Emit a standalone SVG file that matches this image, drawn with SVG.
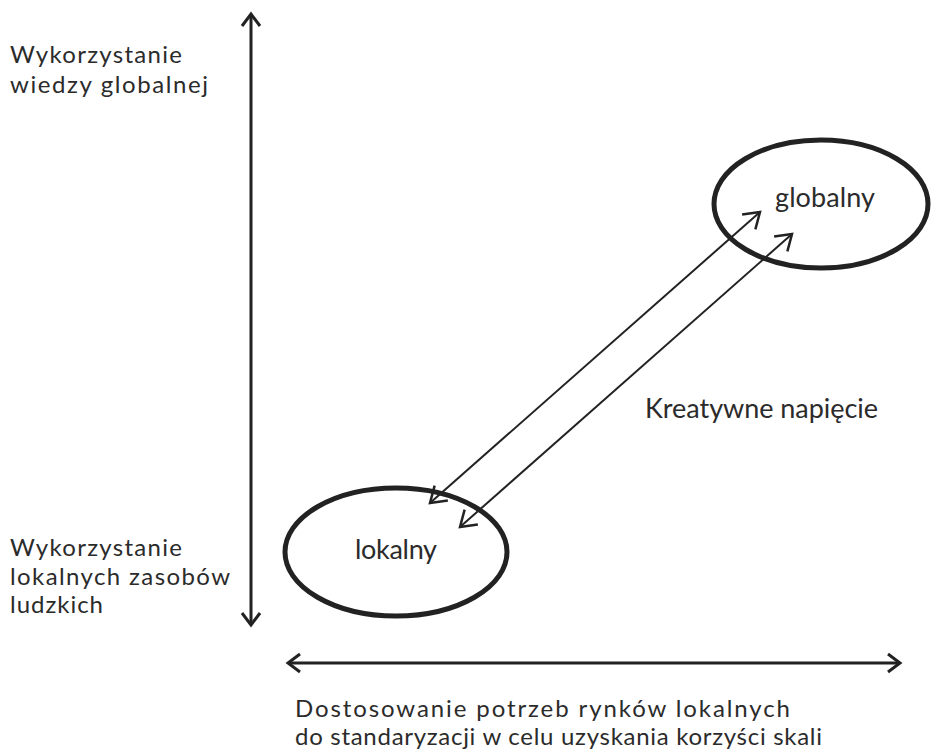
<svg xmlns="http://www.w3.org/2000/svg" width="932" height="754" viewBox="0 0 932 754">
<style>
text{font-family:Lato,"Open Sans","Liberation Sans",sans-serif;fill:#2b2b2b;font-size:27px}
.ml{font-size:24px}
.ax{stroke:#222;stroke-width:3;fill:none}
.dg{stroke:#222;stroke-width:2;fill:none}
.el{stroke:#222;stroke-width:5;fill:none}
</style>
<defs>
<marker id="ha" viewBox="-16 -12 20 24" refX="0" refY="0" markerWidth="20" markerHeight="24" markerUnits="userSpaceOnUse" orient="auto-start-reverse">
<path d="M-12,-9 L0,0 L-12,9" stroke="#222" stroke-width="3" fill="none"/>
</marker>
<marker id="hd" viewBox="-20 -14 24 28" refX="0" refY="0" markerWidth="24" markerHeight="28" markerUnits="userSpaceOnUse" orient="auto-start-reverse">
<path d="M-15,-10 L0,0 L-15,10" stroke="#222" stroke-width="2.5" fill="none"/>
</marker>
</defs>
<g id="connectors">
<line class="ax" x1="251" y1="14" x2="251" y2="625" marker-start="url(#ha)" marker-end="url(#ha)"/>
<line class="ax" x1="288" y1="663" x2="900" y2="663" marker-start="url(#ha)" marker-end="url(#ha)"/>
<line class="dg" x1="430" y1="503" x2="760" y2="212" marker-start="url(#hd)" marker-end="url(#hd)"/>
<line class="dg" x1="460" y1="527" x2="792" y2="234" marker-start="url(#hd)" marker-end="url(#hd)"/>
</g>
<g id="node-global">
<ellipse class="el" cx="821" cy="204" rx="107" ry="64"/>
<text x="775" y="207" textLength="100">globalny</text>
</g>
<g id="node-local">
<ellipse class="el" cx="396" cy="552" rx="111" ry="64"/>
<text x="355" y="559" textLength="82">lokalny</text>
</g>
<g id="label-tension">
<text x="645" y="418" textLength="233">Kreatywne napięcie</text>
</g>
<g id="label-top">
<text class="ml" x="10" y="63" textLength="172">Wykorzystanie</text>
<text class="ml" x="10" y="93" textLength="198">wiedzy globalnej</text>
</g>
<g id="label-bottom">
<text class="ml" x="10" y="556" textLength="172">Wykorzystanie</text>
<text class="ml" x="10" y="585" textLength="220">lokalnych zasobów</text>
<text class="ml" x="10" y="613" textLength="93">ludzkich</text>
</g>
<g id="label-x">
<text class="ml" x="295" y="717" textLength="495">Dostosowanie potrzeb rynków lokalnych</text>
<text class="ml" x="295" y="745" textLength="527">do standaryzacji w celu uzyskania korzyści skali</text>
</g>
</svg>
